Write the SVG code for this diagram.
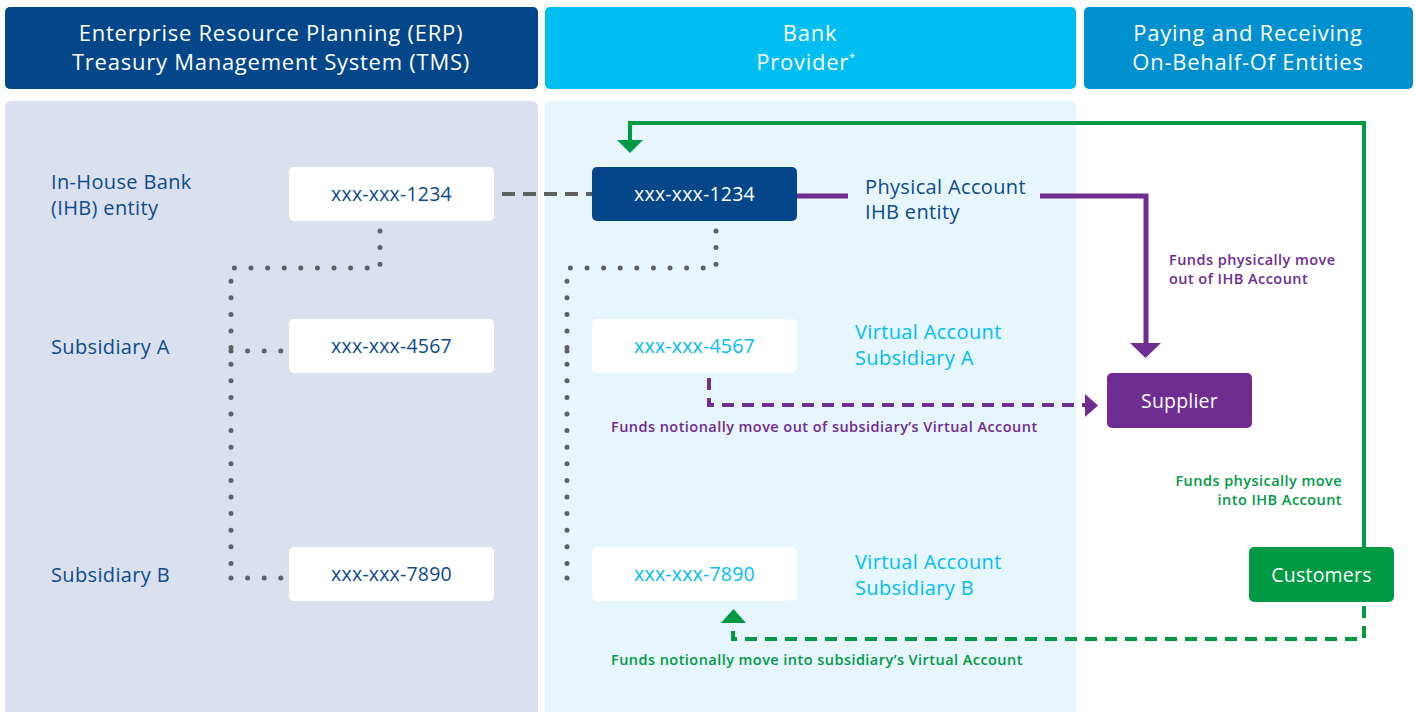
<svg xmlns="http://www.w3.org/2000/svg" width="1417" height="712" viewBox="0 0 1417 712">
<defs>
<style>
.hd{font-family:"Open Sans","Liberation Sans",sans-serif;font-size:22px;letter-spacing:0.75px;fill:#fff;text-anchor:middle}
.lb{font-family:"Open Sans","Liberation Sans",sans-serif;font-size:20px;letter-spacing:0.35px;fill:#0b4a8b}
.cy{font-family:"Open Sans","Liberation Sans",sans-serif;font-size:20px;letter-spacing:0.35px;fill:#00bdf2}
.acc{font-family:"Open Sans","Liberation Sans",sans-serif;font-size:19.5px;letter-spacing:0.2px;text-anchor:middle}
.sm{font-family:"Open Sans","Liberation Sans",sans-serif;font-size:14.5px;letter-spacing:0.45px;font-weight:600}
.dots{fill:none;stroke:#5f6062;stroke-width:5;stroke-linecap:round;stroke-dasharray:0 16.6}
</style>
</defs>
<rect width="1417" height="712" fill="#fff"/>
<!-- headers -->
<g id="hdr-erp"><rect x="5" y="7" width="533" height="82" rx="5" fill="#03468a"/>
<text class="hd" x="271" y="41">Enterprise Resource Planning (ERP)</text>
<text class="hd" x="271" y="70">Treasury Management System (TMS)</text></g>
<g id="hdr-bank"><rect x="545" y="7" width="531" height="82" rx="5" fill="#00bdf2"/>
<text class="hd" x="810" y="41">Bank</text>
<text class="hd" x="806" y="70">Provider<tspan font-size="11" dy="-9">*</tspan></text></g>
<g id="hdr-obo"><rect x="1084" y="7" width="329" height="82" rx="5" fill="#0090cf"/>
<text class="hd" x="1248" y="41">Paying and Receiving</text>
<text class="hd" x="1248" y="70">On-Behalf-Of Entities</text></g>
<!-- panels -->
<rect x="5" y="101" width="533" height="620" rx="6" fill="#dbe0ee"/>
<rect x="545" y="101" width="531" height="620" rx="6" fill="#e7f5fc"/>
<!-- connectors -->
<g id="connectors">
<path d="M502 194H592" fill="none" stroke="#5f6062" stroke-width="4" stroke-dasharray="13 8"/>
<path class="dots" d="M380 231V268H231V578"/>
<path class="dots" d="M231 351H282"/>
<path class="dots" d="M231 578H285"/>
<path class="dots" d="M716 231V268H567V578"/>
<path class="dots" d="M567 351H583"/>
<path class="dots" d="M567 578H583"/>
<path d="M797 196H848M1040 196H1146V345" fill="none" stroke="#6f2c91" stroke-width="5"/>
<polygon points="1130,343 1161,343 1145.5,358" fill="#6f2c91"/>
<path d="M709 378V405H1086" fill="none" stroke="#6f2c91" stroke-width="4" stroke-dasharray="12 8"/>
<polygon points="1085,394 1098,405.5 1085,417" fill="#6f2c91"/>
<path d="M1364 547V123H630V142" fill="none" stroke="#009a44" stroke-width="4"/>
<polygon points="617,140 643,140 630,153" fill="#009a44"/>
<path d="M1364 606V639H733V622" fill="none" stroke="#009a44" stroke-width="4" stroke-dasharray="12 8"/>
<polygon points="721,623 746,623 733.5,609" fill="#009a44"/>
</g>
<!-- left labels -->
<g id="lbl-ihb"><text class="lb" x="51" y="189">In-House Bank</text><text class="lb" x="51" y="215">(IHB) entity</text></g>
<g id="lbl-suba"><text class="lb" x="51" y="354">Subsidiary A</text></g>
<g id="lbl-subb"><text class="lb" x="51" y="582">Subsidiary B</text></g>
<!-- ERP nodes -->
<g id="erp-1234"><rect x="289" y="167" width="205" height="54" rx="5" fill="#fff"/><text class="acc" x="391.5" y="201" fill="#0b4a8b">xxx-xxx-1234</text></g>
<g id="erp-4567"><rect x="289" y="319" width="205" height="54" rx="5" fill="#fff"/><text class="acc" x="391.5" y="353" fill="#0b4a8b">xxx-xxx-4567</text></g>
<g id="erp-7890"><rect x="289" y="547" width="205" height="54" rx="5" fill="#fff"/><text class="acc" x="391.5" y="581" fill="#0b4a8b">xxx-xxx-7890</text></g>
<!-- bank nodes -->
<g id="bank-1234"><rect x="592" y="167" width="205" height="54" rx="5" fill="#03468a"/><text class="acc" x="694.5" y="201" fill="#fff">xxx-xxx-1234</text></g>
<g id="bank-4567"><rect x="592" y="319" width="205" height="54" rx="5" fill="#fff"/><text class="acc" x="694.5" y="353" fill="#00bdf2">xxx-xxx-4567</text></g>
<g id="bank-7890"><rect x="592" y="547" width="205" height="54" rx="5" fill="#fff"/><text class="acc" x="694.5" y="581" fill="#00bdf2">xxx-xxx-7890</text></g>
<g id="lbl-phys"><text class="lb" x="865" y="194">Physical Account</text><text class="lb" x="865" y="219">IHB entity</text></g>
<g id="lbl-va"><text class="cy" x="855" y="339">Virtual Account</text><text class="cy" x="855" y="365">Subsidiary A</text></g>
<g id="lbl-vb"><text class="cy" x="855" y="569">Virtual Account</text><text class="cy" x="855" y="595">Subsidiary B</text></g>
<!-- right nodes -->
<g id="supplier"><rect x="1107" y="373" width="145" height="55" rx="5" fill="#6f2c91"/><text class="acc" x="1179.5" y="408" fill="#fff" letter-spacing="0.6">Supplier</text></g>
<g id="customers"><rect x="1249" y="547" width="145" height="55" rx="5" fill="#009a44"/><text class="acc" x="1321.5" y="582" fill="#fff" letter-spacing="0.6">Customers</text></g>
<!-- flow labels -->
<text class="sm" x="1169" y="265" fill="#6f2c91">Funds physically move</text>
<text class="sm" x="1169" y="284" fill="#6f2c91">out of IHB Account</text>
<text class="sm" x="611" y="432" fill="#6f2c91">Funds notionally move out of subsidiary’s Virtual Account</text>
<text class="sm" x="1342" y="486" fill="#009a44" text-anchor="end">Funds physically move</text>
<text class="sm" x="1342" y="505" fill="#009a44" text-anchor="end">into IHB Account</text>
<text class="sm" x="611" y="665" fill="#009a44">Funds notionally move into subsidiary’s Virtual Account</text>
</svg>
